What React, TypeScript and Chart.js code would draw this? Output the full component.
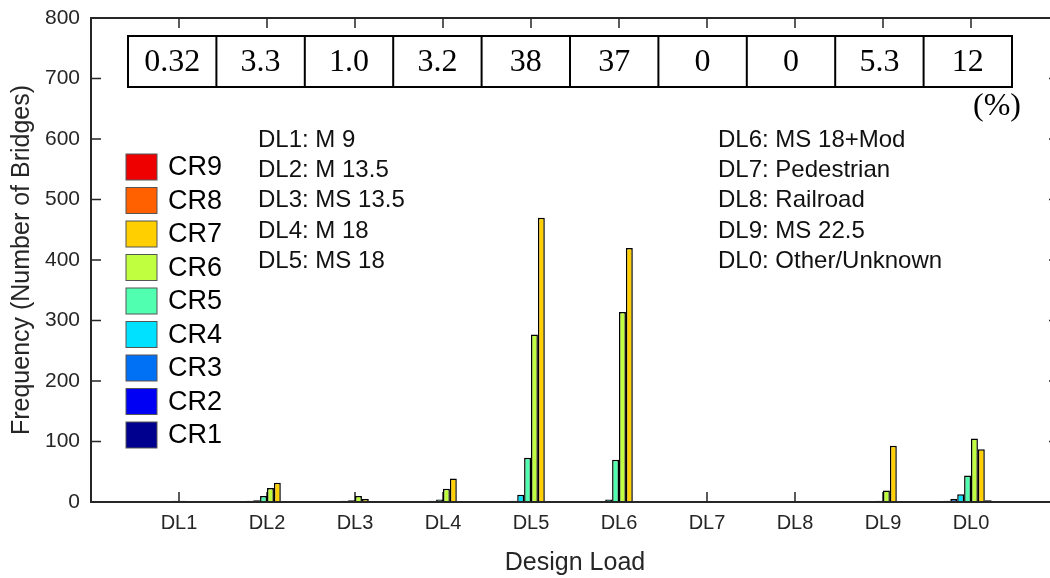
import { useEffect, useRef } from 'react';
import { Chart, registerables } from 'chart.js';

Chart.register(...registerables);

// ---------- data ----------
const categories = ['DL1', 'DL2', 'DL3', 'DL4', 'DL5', 'DL6', 'DL7', 'DL8', 'DL9', 'DL0'];
const seriesNames = ['CR1', 'CR2', 'CR3', 'CR4', 'CR5', 'CR6', 'CR7', 'CR8', 'CR9'];
const seriesColors = ['#00008F', '#0000F5', '#0070F5', '#00E0FF', '#50FFB0', '#C0FF40', '#FFCF00', '#FF6000', '#EE0000'];

const cr1 = [0, 0, 0, 0, 0, 0, 0, 0, 0, 1];
const cr2 = [0, 1, 0, 0, 1, 1, 0, 0, 0, 2];
const cr3 = [1, 2, 1, 1, 2, 1, 0, 0, 1, 5];
const cr4 = [1, 3, 2, 2, 12, 4, 0, 0, 1, 13];
const cr5 = [2, 10, 3, 4, 73, 70, 0, 0, 2, 44];
const cr6 = [2, 23, 10, 22, 277, 314, 0, 0, 19, 105];
const cr7 = [1, 32, 5, 39, 470, 420, 0, 0, 93, 87];
const cr8 = [0, 1, 0, 1, 0, 1, 0, 0, 0, 3];
const cr9 = [0, 0, 0, 0, 0, 0, 0, 0, 0, 1];
const seriesValues = [cr1, cr2, cr3, cr4, cr5, cr6, cr7, cr8, cr9];

const percentLabels = ['0.32', '3.3', '1.0', '3.2', '38', '37', '0', '0', '5.3', '12'];
const leftNotes = ['DL1: M 9', 'DL2: M 13.5', 'DL3: MS 13.5', 'DL4: M 18', 'DL5: MS 18'];
const rightNotes = ['DL6: MS 18+Mod', 'DL7: Pedestrian', 'DL8: Railroad', 'DL9: MS 22.5', 'DL0: Other/Unknown'];

const yTicks = [0, 100, 200, 300, 400, 500, 600, 700, 800];

const SANS = '"Liberation Sans", Arial, Helvetica, sans-serif';
const SERIF = '"Liberation Serif", "Times New Roman", serif';
const AXIS = '#262626';

// padded category axis: empty slot at each end so that ticks sit like the reference
const axisLabels = ['', ...categories, ''];
const pad = (arr: number[]) => [null, ...arr, null];

const decorPlugin = {
  id: 'decor',
  beforeDatasetsDraw(chart: any) {
    const { ctx, chartArea: a, scales } = chart;
    const x = scales.x;
    const y = scales.y;
    ctx.save();
    ctx.strokeStyle = AXIS;
    ctx.lineWidth = 1.5;
    ctx.beginPath();
    for (let i = 1; i <= categories.length; i++) {
      const px = x.getPixelForValue(i);
      ctx.moveTo(px, a.bottom);
      ctx.lineTo(px, a.bottom - 10);
      ctx.moveTo(px, a.top);
      ctx.lineTo(px, a.top + 10);
    }
    for (const t of yTicks) {
      const py = y.getPixelForValue(t);
      ctx.moveTo(a.left, py);
      ctx.lineTo(a.left + 10, py);
      ctx.moveTo(a.right, py);
      ctx.lineTo(a.right - 10, py);
    }
    ctx.stroke();
    ctx.restore();
  },
  afterDraw(chart: any) {
    const { ctx, chartArea: a } = chart;
    ctx.save();
    // axis frame
    ctx.strokeStyle = AXIS;
    ctx.lineWidth = 2;
    ctx.beginPath();
    ctx.moveTo(a.left, a.top);
    ctx.lineTo(a.left, a.bottom);
    ctx.lineTo(a.right, a.bottom);
    ctx.lineTo(a.right, a.top);
    ctx.closePath();
    ctx.stroke();

    // percentage table
    const tLeft = a.left + 37;
    const tTop = a.top + 18;
    const cellW = 88.4;
    const cellH = 51;
    ctx.fillStyle = '#fff';
    ctx.fillRect(tLeft, tTop, cellW * percentLabels.length, cellH);
    ctx.strokeStyle = '#000';
    ctx.lineWidth = 2;
    ctx.strokeRect(tLeft, tTop, cellW * percentLabels.length, cellH);
    ctx.beginPath();
    for (let i = 1; i < percentLabels.length; i++) {
      ctx.moveTo(tLeft + i * cellW, tTop);
      ctx.lineTo(tLeft + i * cellW, tTop + cellH);
    }
    ctx.stroke();
    ctx.fillStyle = '#000';
    ctx.font = `32px ${SERIF}`;
    ctx.textAlign = 'center';
    ctx.textBaseline = 'middle';
    percentLabels.forEach((s, i) => {
      ctx.fillText(s, tLeft + (i + 0.5) * cellW, tTop + cellH / 2 + 1);
    });
    ctx.fillText('(%)', a.left + 906, a.top + 89);

    // notes
    ctx.font = `24px ${SANS}`;
    ctx.textAlign = 'left';
    ctx.fillStyle = '#111';
    leftNotes.forEach((s, i) => ctx.fillText(s, a.left + 167, a.top + 122 + i * 30.3));
    rightNotes.forEach((s, i) => ctx.fillText(s, a.left + 627, a.top + 122 + i * 30.3));

    // legend (CR9 on top)
    const ds = chart.data.datasets;
    for (let k = 0; k < seriesNames.length; k++) {
      const idx = seriesNames.length - 1 - k;
      const cy = a.top + 149 + k * 33.5;
      ctx.fillStyle = ds[idx].backgroundColor;
      ctx.fillRect(a.left + 35, cy - 13, 31, 26);
      ctx.strokeStyle = '#555';
      ctx.lineWidth = 1;
      ctx.strokeRect(a.left + 35, cy - 13, 31, 26);
      ctx.fillStyle = '#000';
      ctx.font = `27px ${SANS}`;
      ctx.fillText(ds[idx].label, a.left + 77, cy + 1);
    }
    ctx.restore();
  },
};

export default function App() {
  const ref = useRef<HTMLCanvasElement | null>(null);

  useEffect(() => {
    document.body.style.margin = '0';
    document.body.style.overflow = 'hidden';
    const canvas = ref.current;
    if (!canvas) return;
    const datasets: any[] = seriesNames.map((name, i) => ({
      label: name,
      data: pad(seriesValues[i]),
      backgroundColor: seriesColors[i],
      borderColor: '#000',
      borderWidth: 1.5,
      borderSkipped: 'start',
    }));
    // trailing empty slot in each group (as in the original grouping)
    datasets.push({ label: '', data: pad(categories.map(() => 0)), backgroundColor: 'rgba(0,0,0,0)', borderWidth: 0 });

    const chart = new Chart(canvas, {
      type: 'bar',
      data: { labels: axisLabels, datasets },
      options: {
        animation: false,
        responsive: false,
        maintainAspectRatio: false,
        layout: { padding: { top: 18, right: 11, left: 0, bottom: 0 } },
        plugins: { legend: { display: false }, tooltip: { enabled: false }, title: { display: false } },
        datasets: { bar: { categoryPercentage: 0.784, barPercentage: 1 } },
        scales: {
          x: {
            type: 'category',
            offset: false,
            grid: { display: false },
            border: { display: false },
            ticks: { color: AXIS, font: { family: SANS, size: 20 }, padding: 1, autoSkip: false, maxRotation: 0 },
            title: { display: true, text: 'Design Load', color: AXIS, font: { family: SANS, size: 25 }, padding: { top: 0, bottom: 0 } },
            afterFit: (s: any) => { s.height = 76; },
          },
          y: {
            min: 0,
            max: 800,
            grid: { display: false },
            border: { display: false },
            ticks: { stepSize: 100, color: AXIS, font: { family: SANS, size: 21 }, padding: 3 },
            title: { display: true, text: 'Frequency (Number of Bridges)', color: AXIS, font: { family: SANS, size: 25 }, padding: { top: 7, bottom: 0 } },
            afterFit: (s: any) => { s.width = 91; },
          },
        },
      },
      plugins: [decorPlugin],
    });
    return () => chart.destroy();
  }, []);

  return (
    <div style={{ width: 1070, height: 578 }}>
      <canvas ref={ref} width={1070} height={578} style={{ display: 'block', width: 1070, height: 578 }} />
    </div>
  );
}
